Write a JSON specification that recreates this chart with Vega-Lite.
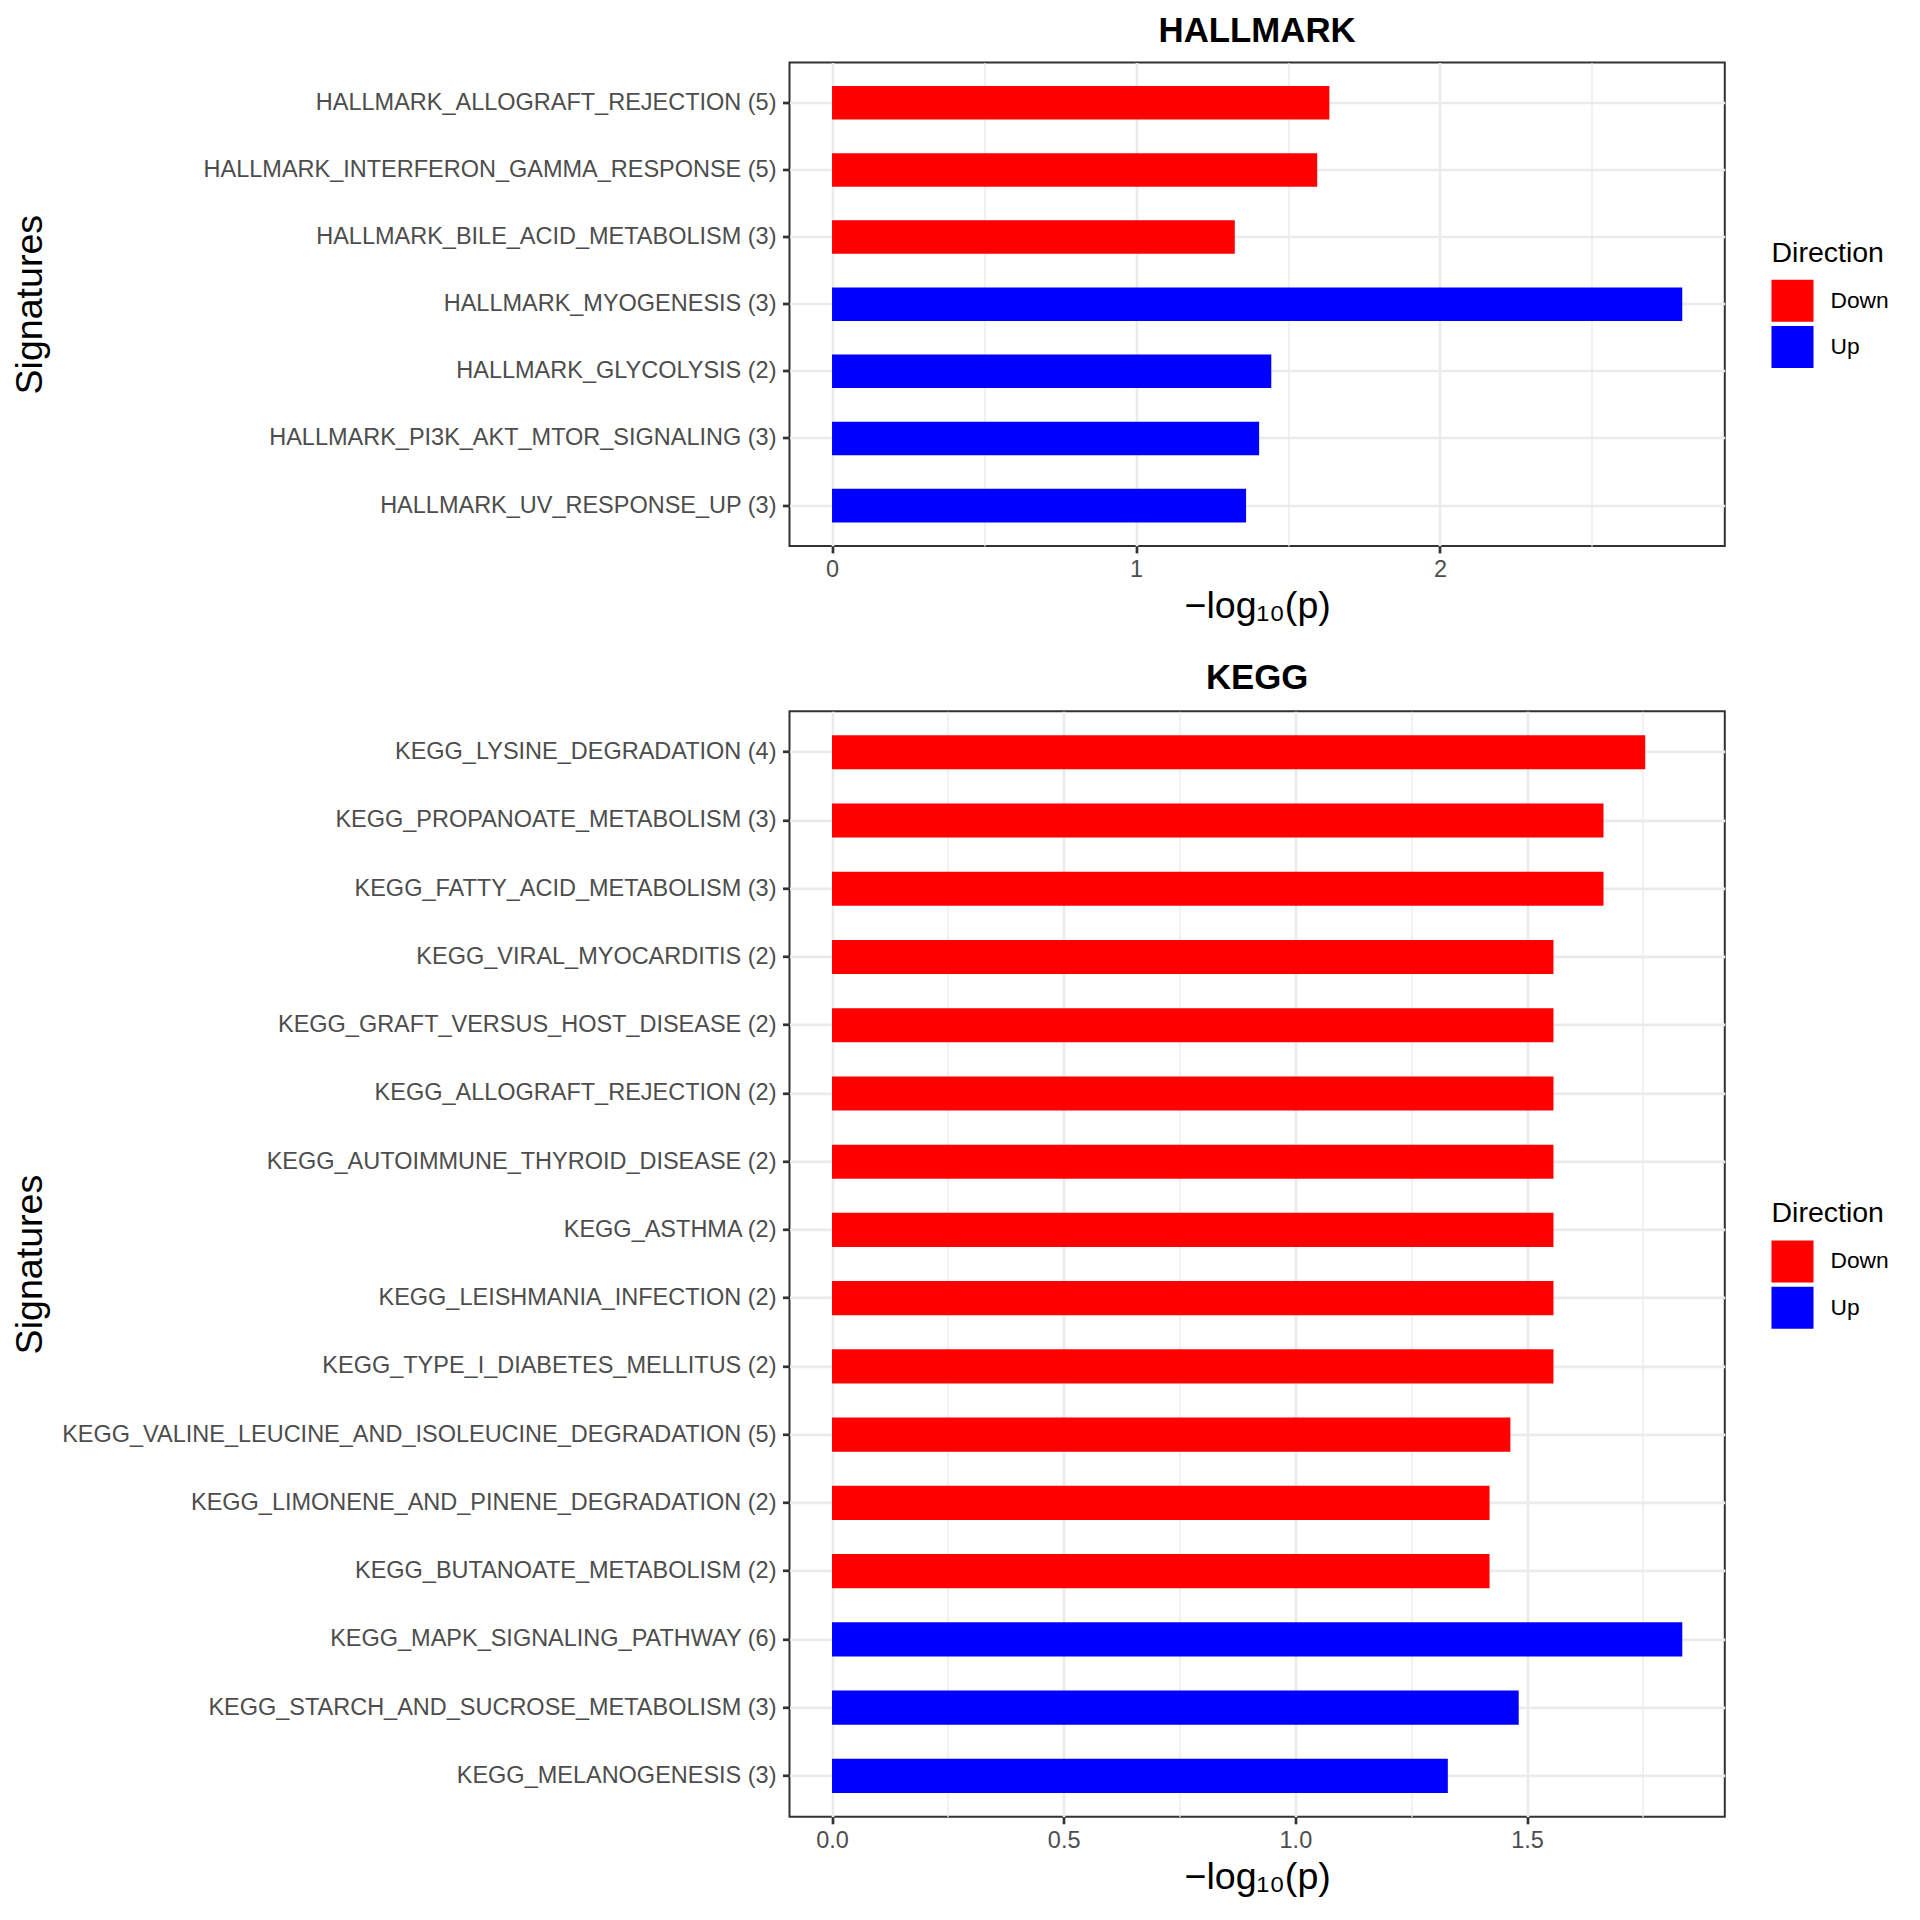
{
  "$schema": "https://vega.github.io/schema/vega-lite/v6.json",
  "padding": {"left": 9.5, "top": 12.5, "right": 0, "bottom": 0},
  "background": "white",
  "datasets": {
    "hallmark": [
      {"name": "HALLMARK_ALLOGRAFT_REJECTION (5)", "value": 1.636, "direction": "Down"},
      {"name": "HALLMARK_INTERFERON_GAMMA_RESPONSE (5)", "value": 1.596, "direction": "Down"},
      {"name": "HALLMARK_BILE_ACID_METABOLISM (3)", "value": 1.325, "direction": "Down"},
      {"name": "HALLMARK_MYOGENESIS (3)", "value": 2.797, "direction": "Up"},
      {"name": "HALLMARK_GLYCOLYSIS (2)", "value": 1.445, "direction": "Up"},
      {"name": "HALLMARK_PI3K_AKT_MTOR_SIGNALING (3)", "value": 1.405, "direction": "Up"},
      {"name": "HALLMARK_UV_RESPONSE_UP (3)", "value": 1.362, "direction": "Up"}
    ],
    "kegg": [
      {"name": "KEGG_LYSINE_DEGRADATION (4)", "value": 1.755, "direction": "Down"},
      {"name": "KEGG_PROPANOATE_METABOLISM (3)", "value": 1.665, "direction": "Down"},
      {"name": "KEGG_FATTY_ACID_METABOLISM (3)", "value": 1.665, "direction": "Down"},
      {"name": "KEGG_VIRAL_MYOCARDITIS (2)", "value": 1.557, "direction": "Down"},
      {"name": "KEGG_GRAFT_VERSUS_HOST_DISEASE (2)", "value": 1.557, "direction": "Down"},
      {"name": "KEGG_ALLOGRAFT_REJECTION (2)", "value": 1.557, "direction": "Down"},
      {"name": "KEGG_AUTOIMMUNE_THYROID_DISEASE (2)", "value": 1.557, "direction": "Down"},
      {"name": "KEGG_ASTHMA (2)", "value": 1.557, "direction": "Down"},
      {"name": "KEGG_LEISHMANIA_INFECTION (2)", "value": 1.557, "direction": "Down"},
      {"name": "KEGG_TYPE_I_DIABETES_MELLITUS (2)", "value": 1.557, "direction": "Down"},
      {"name": "KEGG_VALINE_LEUCINE_AND_ISOLEUCINE_DEGRADATION (5)", "value": 1.464, "direction": "Down"},
      {"name": "KEGG_LIMONENE_AND_PINENE_DEGRADATION (2)", "value": 1.419, "direction": "Down"},
      {"name": "KEGG_BUTANOATE_METABOLISM (2)", "value": 1.419, "direction": "Down"},
      {"name": "KEGG_MAPK_SIGNALING_PATHWAY (6)", "value": 1.835, "direction": "Up"},
      {"name": "KEGG_STARCH_AND_SUCROSE_METABOLISM (3)", "value": 1.482, "direction": "Up"},
      {"name": "KEGG_MELANOGENESIS (3)", "value": 1.329, "direction": "Up"}
    ]
  },
  "spacing": 32.8,
  "resolve": {"scale": {"color": "independent", "x": "independent", "y": "independent"}},
  "vconcat": [
    {
      "width": 935.3,
      "height": 483.4,
      "title": {"text": "HALLMARK", "offset": 13.2},
      "data": {"name": "hallmark"},
      "resolve": {"axis": {"x": "independent"}},
      "layer": [
        {
          "mark": {"type": "point", "opacity": 0},
          "encoding": {
            "y": {"field": "name", "type": "nominal", "sort": null, "title": "Signatures",
                  "scale": {"paddingInner": 0.5, "paddingOuter": 0.35}},
            "x": {"field": "value", "type": "quantitative",
                  "scale": {"domain": [-0.1399, 2.9369], "nice": false, "zero": false},
                  "axis": {"orient": "bottom", "values": [0.5, 1.5, 2.5], "grid": true, "gridWidth": 1.35,
                           "labels": false, "ticks": false, "domain": false, "title": null}}
          }
        },
        {
          "mark": {"type": "bar"},
          "encoding": {
            "y": {"field": "name", "type": "nominal", "sort": null, "title": "Signatures",
                  "scale": {"paddingInner": 0.5, "paddingOuter": 0.35}},
            "x": {"field": "value", "type": "quantitative",
                  "scale": {"domain": [-0.1399, 2.9369], "nice": false, "zero": false},
                  "axis": {"orient": "bottom", "values": [0, 1, 2], "format": "d", "grid": true, "title": "−log₁₀(p)"}},
            "color": {"field": "direction", "type": "nominal", "title": "Direction",
                      "scale": {"domain": ["Down", "Up"], "range": ["#FF0000", "#0000FF"]},
                      "legend": {"orient": "none", "legendX": 982, "legendY": 176}}
          }
        }
      ]
    },
    {
      "width": 935.3,
      "height": 1105.5,
      "title": {"text": "KEGG", "offset": 14.8},
      "data": {"name": "kegg"},
      "resolve": {"axis": {"x": "independent"}},
      "layer": [
        {
          "mark": {"type": "point", "opacity": 0},
          "encoding": {
            "y": {"field": "name", "type": "nominal", "sort": null, "title": "Signatures",
                  "scale": {"paddingInner": 0.5, "paddingOuter": 0.35}},
            "x": {"field": "value", "type": "quantitative",
                  "scale": {"domain": [-0.09175, 1.92675], "nice": false, "zero": false},
                  "axis": {"orient": "bottom", "values": [0.25, 0.75, 1.25, 1.75], "grid": true, "gridWidth": 1.35,
                           "labels": false, "ticks": false, "domain": false, "title": null}}
          }
        },
        {
          "mark": {"type": "bar"},
          "encoding": {
            "y": {"field": "name", "type": "nominal", "sort": null, "title": "Signatures",
                  "scale": {"paddingInner": 0.5, "paddingOuter": 0.35}},
            "x": {"field": "value", "type": "quantitative",
                  "scale": {"domain": [-0.09175, 1.92675], "nice": false, "zero": false},
                  "axis": {"orient": "bottom", "values": [0, 0.5, 1, 1.5], "format": ".1f", "grid": true, "title": "−log₁₀(p)"}},
            "color": {"field": "direction", "type": "nominal", "title": "Direction",
                      "scale": {"domain": ["Down", "Up"], "range": ["#FF0000", "#0000FF"]},
                      "legend": {"orient": "none", "legendX": 982, "legendY": 488}}
          }
        }
      ]
    }
  ],
  "config": {
    "font": "Liberation Sans",
    "view": {"stroke": "#333333", "strokeWidth": 2},
    "title": {"font": "Liberation Sans", "fontSize": 34.8, "fontWeight": "bold", "color": "#000000",
              "baseline": "alphabetic", "anchor": "middle"},
    "axis": {
      "labelFont": "Liberation Sans", "labelFontSize": 23.5, "labelColor": "#4D4D4D",
      "titleFont": "Liberation Sans", "titleFontSize": 37.6, "titleFontWeight": "normal", "titleColor": "#000000",
      "gridColor": "#EBEBEB", "gridWidth": 2.7, "gridOpacity": 1,
      "tickColor": "#333333", "tickWidth": 2.7, "tickSize": 7,
      "domain": false, "labelOverlap": false, "labelFlush": false
    },
    "axisX": {"labelPadding": 5, "titleBaseline": "alphabetic", "titleY": 71.5},
    "axisY": {"labelPadding": 6.5, "labelLimit": 1200, "grid": true, "bandPosition": 0.5,
              "titleBaseline": "alphabetic", "titleX": -748, "titleAngle": -90, "titleAlign": "center"},
    "legend": {
      "titleFont": "Liberation Sans", "titleFontSize": 28.5, "titleFontWeight": "normal", "titleColor": "#000000",
      "labelFont": "Liberation Sans", "labelFontSize": 22.8, "labelColor": "#000000",
      "symbolType": "square", "symbolSize": 1764, "symbolStrokeWidth": 0, "symbolOpacity": 1,
      "rowPadding": 4.3, "titlePadding": 12.7, "labelOffset": 17, "padding": 0
    }
  }
}
